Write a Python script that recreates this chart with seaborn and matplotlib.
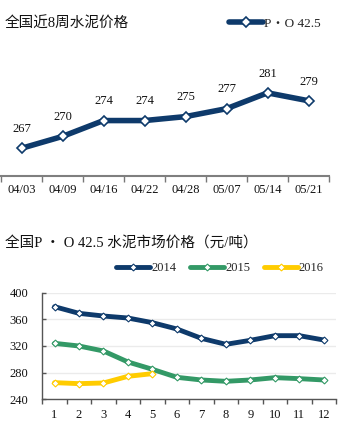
import matplotlib
matplotlib.use("Agg")
import matplotlib.pyplot as plt
import seaborn as sns
import pandas as pd
from matplotlib.lines import Line2D

sns.set_theme(style="white")
plt.rcParams['font.family'] = ['Liberation Serif', 'Noto Sans CJK SC']

# ---------------- data ----------------
weeks = ["04/03", "04/09", "04/16", "04/22", "04/28", "05/07", "05/14", "05/21"]
weekly_price = [267, 270, 274, 274, 275, 277, 281, 279]

months = list(range(1, 13))
price_2014 = [379, 369, 365, 362, 355, 345.5, 331.5, 322.5, 328.5, 335.5, 335.5, 329]
price_2015 = [324, 320, 312.5, 296, 285, 273, 269, 267, 269, 272.5, 271, 269]
price_2016 = [265, 263.5, 264.5, 274.5, 278.5]

NAVY = "#0E3A6B"
GREEN = "#339966"
YELLOW = "#FFCC00"

W, H = 344, 423
fig = plt.figure(figsize=(W / 100, H / 100), dpi=100)

def fx(px):
    return px / W

def fy(py):
    return 1 - py / H

# ---------------- top chart ----------------
ax1 = fig.add_axes([fx(1), fy(176), fx(328), fy(77) - fy(176)])
df1 = pd.DataFrame({"week": weeks, "price": weekly_price, "i": range(len(weeks))})
sns.lineplot(data=df1, x="i", y="price", ax=ax1, color=NAVY, linewidth=4,
             marker="D", markersize=5, markerfacecolor="white",
             markeredgecolor=NAVY, markeredgewidth=1.2, sort=False)
ax1.set_xlim(-0.5, len(weeks) - 0.5)
ax1.set_ylim(260, 285)
for i, v in enumerate(weekly_price):
    ax1.annotate(str(v), (i, v), xytext=(0, 9.5), textcoords="offset points",
                 ha="center", va="bottom", fontsize=9, color="#111111")
ax1.set_xticks(range(len(weeks)))
ax1.set_xticklabels(weeks, fontsize=9, color="#111111")
ax1.set_xticks([k - 0.5 for k in range(len(weeks) + 1)], minor=True)
ax1.tick_params(axis="x", which="major", length=0, pad=6)
ax1.tick_params(axis="x", which="minor", length=4, color="#777777", direction="out",
                width=1, bottom=True)
ax1.set_yticks([])
for s in ["left", "right", "top"]:
    ax1.spines[s].set_visible(False)
ax1.spines["bottom"].set_visible(True)
ax1.spines["bottom"].set_color("#7F7F7F")
ax1.spines["bottom"].set_linewidth(1.5)
ax1.spines["bottom"].set_zorder(5)
ax1.set_xlabel("")
ax1.set_ylabel("")

fig.text(fx(5), fy(24), "全国近8周水泥价格", fontsize=10.5, va="center", ha="left", color="#111111")
h1 = Line2D([], [], color=NAVY, linewidth=4, marker="D", markersize=5,
            markerfacecolor="white", markeredgecolor=NAVY, markeredgewidth=1.2)
fig.legend([h1], ["P・O 42.5"], loc="center left", bbox_to_anchor=(fx(222), fy(24)),
           frameon=False, fontsize=9.5, handlelength=2.6, handletextpad=0.1, borderpad=0)

# ---------------- bottom chart ----------------
ax2 = fig.add_axes([fx(42.3), fy(399.3), fx(336) - fx(42.3), fy(292.7) - fy(399.3)])
series = [("2014", price_2014, NAVY), ("2015", price_2015, GREEN), ("2016", price_2016, YELLOW)]
handles = []
for name, vals, col in series:
    d = pd.DataFrame({"month": months[:len(vals)], "price": vals})
    sns.lineplot(data=d, x="month", y="price", ax=ax2, color=col, linewidth=3.5,
                 marker="D", markersize=3.5, markerfacecolor="white",
                 markeredgecolor=col, markeredgewidth=0.8, sort=False)
    handles.append(Line2D([], [], color=col, linewidth=3.5, marker="D", markersize=3.5,
                          markerfacecolor="white", markeredgecolor=col, markeredgewidth=0.8))
ax2.set_xlim(0.5, 12.5)
ax2.set_ylim(240, 400)
ax2.set_yticks([240, 280, 320, 360, 400])
ax2.set_yticklabels(["240", "280", "320", "360", "400"], fontsize=9, color="#111111")
ax2.set_xticks(months)
ax2.set_xticklabels([str(m) for m in months], fontsize=9, color="#111111")
ax2.set_xticks([k + 0.5 for k in range(0, 13)], minor=True)
ax2.tick_params(axis="x", which="major", length=0, pad=7)
ax2.tick_params(axis="x", which="minor", length=3.5, color="#555555", direction="out",
                width=1, bottom=True)
ax2.tick_params(axis="y", which="major", length=3, color="#555555", direction="in",
                width=1, pad=10, left=True)
ax2.yaxis.grid(True, color="#EBEBEB", linewidth=1)
ax2.set_axisbelow(True)
for s in ["right", "top"]:
    ax2.spines[s].set_visible(False)
ax2.spines["left"].set_color("#555555")
ax2.spines["bottom"].set_color("#555555")
ax2.spines["left"].set_linewidth(1)
ax2.spines["bottom"].set_linewidth(1)
ax2.set_xlabel("")
ax2.set_ylabel("")

fig.text(fx(5), fy(243), "全国P ・ O 42.5 水泥市场价格（元/吨）", fontsize=10.5, va="center",
         ha="left", color="#111111")
fig.legend(handles, ["2014", "2015", "2016"], loc="center left",
           bbox_to_anchor=(fx(110), fy(268)), ncol=3, frameon=False, fontsize=9,
           handlelength=2.7, handletextpad=0.1, columnspacing=1.1, borderpad=0)

fig.savefig("out.png", dpi=100)
